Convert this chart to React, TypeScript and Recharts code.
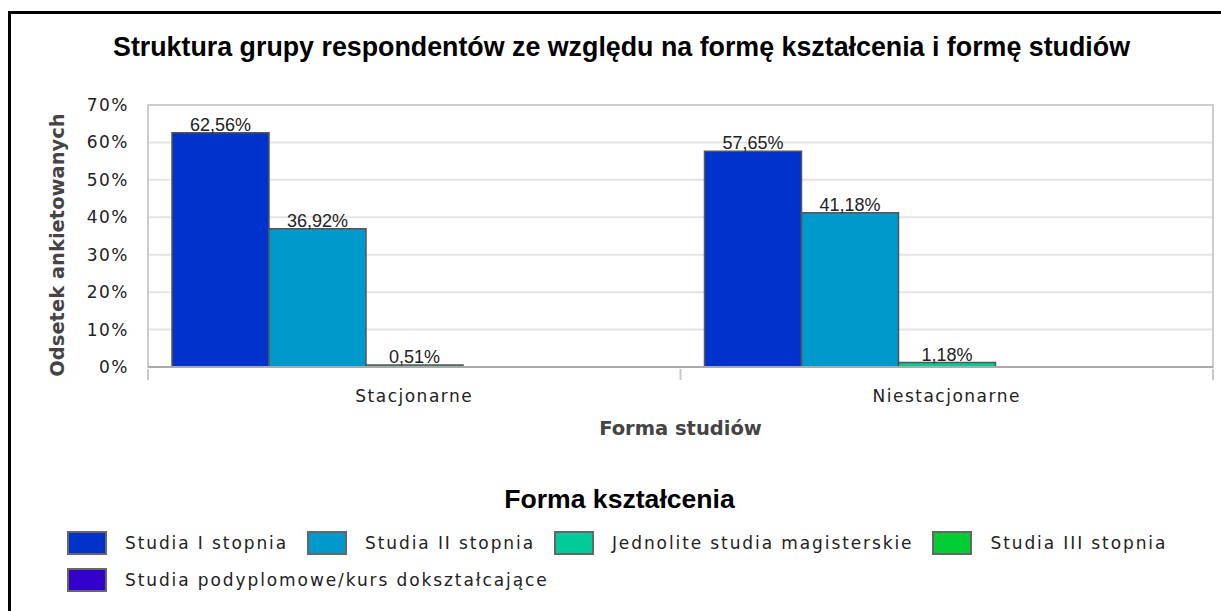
import { BarChart, Bar, XAxis, YAxis, CartesianGrid, ReferenceArea, LabelList, Legend } from "recharts";

const categories = ["Stacjonarne", "Niestacjonarne"];
const studiaI = [62.56, 57.65];
const studiaII = [36.92, 41.18];
const jednolite = [0.51, 1.18];
const studiaIII = [0, 0];
const podyplomowe = [0, 0];
const yTicks = [0, 10, 20, 30, 40, 50, 60, 70];

const series = [
  { key: "s1", name: "Studia I stopnia", color: "#0033cc", values: studiaI },
  { key: "s2", name: "Studia II stopnia", color: "#0099cc", values: studiaII },
  { key: "s3", name: "Jednolite studia magisterskie", color: "#00cc99", values: jednolite },
  { key: "s4", name: "Studia III stopnia", color: "#00cc33", values: studiaIII },
  { key: "s5", name: "Studia podyplomowe/kurs dokształcające", color: "#3300cc", values: podyplomowe },
];

const data = categories.map((name, i) => {
  const row: Record<string, string | number> = { name };
  series.forEach((s) => (row[s.key] = s.values[i]));
  return row;
});

const tickFont = { fontFamily: "DejaVu Sans", fontSize: 17, letterSpacing: 1.5, fill: "#222" };

function fmtPct(v: number): string {
  if (!v) return "";
  return v.toFixed(2).replace(".", ",") + "%";
}

function CategoryTick(props: any) {
  const { x, y, payload, index, visibleTicksCount } = props;
  const half = payload.offset ?? 0;
  return (
    <g>
      <line x1={x - half} x2={x - half} y1={y} y2={y + 11} stroke="#c8c8c8" strokeWidth={2} />
      {index === visibleTicksCount - 1 && (
        <line x1={x + half} x2={x + half} y1={y} y2={y + 11} stroke="#c8c8c8" strokeWidth={2} />
      )}
      <text x={x} y={y + 33} textAnchor="middle" style={tickFont}>
        {payload.value}
      </text>
    </g>
  );
}

function LegendBox() {
  return (
    <div style={{ width: 1221, fontFamily: "DejaVu Sans" }}>
      <div
        style={{
          textAlign: "center",
          fontFamily: "Liberation Sans",
          fontWeight: "bold",
          fontSize: 26.6,
          lineHeight: "26px",
          color: "#000",
          paddingLeft: 18,
          marginBottom: 19,
        }}
      >
        Forma kształcenia
      </div>
      <div style={{ display: "flex", flexWrap: "wrap", paddingLeft: 67, width: 1140, rowGap: 13 }}>
        {series.map((s) => (
          <div key={s.key} style={{ display: "flex", alignItems: "center", marginRight: 19 }}>
            <span
              style={{
                display: "inline-block",
                width: 36,
                height: 20,
                background: s.color,
                border: "2px solid #666",
                marginRight: 18,
              }}
            />
            <span style={{ fontSize: 17, letterSpacing: 1.9, color: "#222" }}>{s.name}</span>
          </div>
        ))}
      </div>
    </div>
  );
}

export default function App() {
  return (
    <div style={{ position: "relative", width: 1221, height: 611, background: "#fff", overflow: "hidden" }}>
      <style>{`body{margin:0;overflow:hidden}`}</style>
      <div
        style={{
          position: "absolute",
          left: 8,
          top: 11,
          width: 1230,
          height: 620,
          borderLeft: "3px solid #000",
          borderTop: "3px solid #000",
        }}
      />
      <div
        style={{
          position: "absolute",
          left: 0,
          top: 31,
          width: 1243,
          textAlign: "center",
          fontFamily: "Liberation Sans",
          fontWeight: "bold",
          fontSize: 26.8,
          lineHeight: "32px",
          color: "#000",
        }}
      >
        Struktura grupy respondentów ze względu na formę kształcenia i formę studiów
      </div>
      <div style={{ position: "absolute", left: 0, top: 0 }}>
        <BarChart
          width={1221}
          height={611}
          data={data}
          margin={{ top: 105, right: 8, bottom: 164, left: 30 }}
          barCategoryGap={24}
          barGap={0}
        >
          <CartesianGrid vertical={false} stroke="#e4e4e4" strokeWidth={2} />
          <ReferenceArea
            x1={categories[0]}
            x2={categories[categories.length - 1]}
            y1={0}
            y2={70}
            fill="none"
            stroke="#cccccc"
            strokeWidth={2}
            ifOverflow="visible"
          />
          <YAxis
            type="number"
            domain={[0, 70]}
            ticks={yTicks}
            width={118}
            axisLine={false}
            tickLine={false}
            tickMargin={13}
            tickFormatter={(v: number) => v + "%"}
            tick={tickFont}
            label={(p: any) => {
              const vb = p.viewBox || { x: 30, y: 105, height: 262 };
              const cx = vb.x + 34;
              const cy = vb.y + vb.height / 2 + 9;
              return (
                <text
                  transform={`translate(${cx}, ${cy}) rotate(-90)`}
                  textAnchor="middle"
                  style={{ fontFamily: "DejaVu Sans", fontWeight: "bold", fontSize: 19.5, fill: "#444" }}
                >
                  Odsetek ankietowanych
                </text>
              );
            }}
          />
          <XAxis
            dataKey="name"
            height={80}
            tickSize={0}
            tickLine={false}
            axisLine={{ stroke: "#aaaaaa", strokeWidth: 2 }}
            tick={<CategoryTick />}
            interval={0}
            label={{
              value: "Forma studiów",
              position: "insideBottom",
              offset: 12,
              style: { fontFamily: "DejaVu Sans", fontWeight: "bold", fontSize: 19.5, fill: "#444" },
            }}
          />
          {series.map((s) => (
            <Bar
              key={s.key}
              dataKey={s.key}
              name={s.name}
              fill={s.color}
              stroke="#555"
              strokeWidth={1.5}
              isAnimationActive={false}
            >
              <LabelList
                dataKey={s.key}
                position="top"
                offset={2}
                formatter={(v: any) => fmtPct(Number(v))}
                style={{ fontFamily: "Liberation Sans", fontSize: 18, fill: "#222" }}
              />
            </Bar>
          ))}
          <Legend
            verticalAlign="middle"
            align="center"
            layout="horizontal"
            wrapperStyle={{ top: 486, left: 0, width: 1221 }}
            content={() => <LegendBox />}
          />
        </BarChart>
      </div>
    </div>
  );
}
